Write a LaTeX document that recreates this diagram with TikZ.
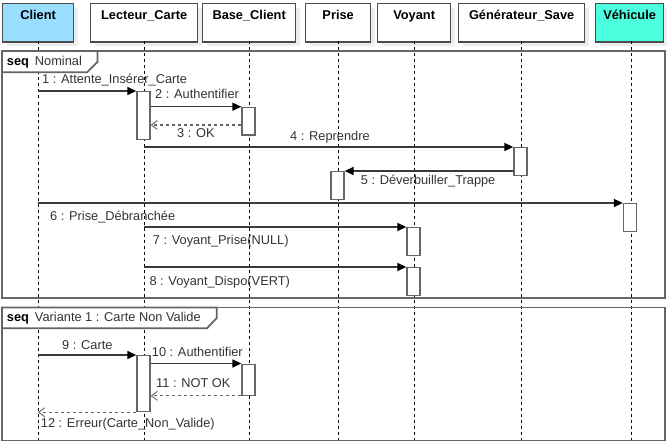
\documentclass[tikz,border=0pt]{standalone}
\usepackage{fontspec}
\setmainfont{Liberation Sans}
\usetikzlibrary{arrows.meta,calc}
\definecolor{clientblue}{HTML}{99DDFF}
\definecolor{vehcyan}{HTML}{4DFFDF}
\definecolor{strokegray}{HTML}{666666}
\definecolor{linegray}{HTML}{3A3A3A}
\definecolor{txtgray}{HTML}{333333}
\begin{document}
\begin{tikzpicture}[x=1pt,y=-1pt,
  font=\fontsize{12.8}{15}\selectfont,
  hdr/.style={draw=black!70, line width=1.3pt, fill=white,
    preaction={fill=black!7, transform canvas={xshift=4pt,yshift=-4pt}},
    minimum height=38.5pt, inner xsep=0pt, inner ysep=0pt,
    text height=16.3pt, text depth=22.2pt,
    font=\fontsize{12.8}{15}\selectfont\bfseries, anchor=north west},
  lifeline/.style={draw=black, line width=0.9pt, dash pattern=on 3pt off 3pt},
  act/.style={draw=strokegray, line width=1.3pt, fill=white, minimum width=13pt,
    inner sep=0pt, anchor=north},
  msg/.style={draw=linegray, line width=1.4pt,
    -{Triangle[length=9pt,width=8pt,fill=black,color=black]}},
  ret/.style={draw=strokegray, line width=1.1pt, dash pattern=on 3pt off 3pt,
    -{Straight Barb[length=6pt,width=9pt,line width=0.9pt]}},
  lbl/.style={anchor=base west, inner sep=0pt, text=txtgray},
  frame/.style={draw=strokegray, line width=1.8pt},
]
\useasboundingbox (0,0) rectangle (667,444);
\coordinate (bottom) at (0,444);

% headers
\node[hdr, fill=clientblue, minimum width=71pt] (client) at (2,3) {Client};
\node[hdr, minimum width=107pt] (lecteur) at (90,3) {Lecteur\_Carte};
\node[hdr, minimum width=93pt] (base) at (202,3) {Base\_Client};
\node[hdr, minimum width=65pt] (prise) at (305,3) {Prise};
\node[hdr, minimum width=73pt] (voyant) at (377,3) {Voyant};
\node[hdr, minimum width=126pt] (gen) at (458,3) {Générateur\_Save};
\node[hdr, fill=vehcyan, minimum width=68pt] (veh) at (595,3) {Véhicule};

% lifelines
\coordinate (L1) at (38,41.5);
\coordinate (L2) at (144,41.5);
\coordinate (L3) at (249.5,41.5);
\coordinate (L4) at (338,41.5);
\coordinate (L5) at (414.5,41.5);
\coordinate (L6) at (521.5,41.5);
\coordinate (L7) at (631,41.5);
\foreach \l in {L1,L2,L3,L4,L5,L6,L7}
  \draw[lifeline] (\l) -- (\l |- bottom);

% frames
\draw[frame] (2,51) rectangle (665,298);
\draw[frame, fill=white] (2,51) -- (97.5,51) -- (97.5,62) -- (87,72.3) -- (2,72.3) -- cycle;
\node[anchor=base west, inner sep=0pt, text=txtgray] (f1) at (6.7,65.7) {\textcolor{black}{\textbf{seq}}\hspace{6pt}Nominal};

\draw[frame] (2,307.5) rectangle (665,440.5);
\draw[frame, fill=white] (2,307.5) -- (216.7,307.5) -- (216.7,318) -- (207,328.3) -- (2,328.3) -- cycle;
\node[anchor=base west, inner sep=0pt, text=txtgray] (f2) at (6.7,321.7) {\textcolor{black}{\textbf{seq}}\hspace{6pt}Variante 1 : Carte Non Valide};

% activations
\node[act, minimum height=48pt] (a1) at (143.5,91) {};
\node[act, minimum height=27.5pt] (a2) at (248.5,106.7) {};
\node[act, minimum height=28pt] (a3) at (520.5,147) {};
\node[act, minimum height=28pt] (a4) at (337.5,171) {};
\node[act, minimum height=28pt] (a5) at (630,203) {};
\node[act, minimum height=28pt] (a6) at (413.5,227) {};
\node[act, minimum height=28pt] (a7) at (413.5,267) {};
\node[act, minimum height=56pt] (a8) at (143.5,355) {};
\node[act, minimum height=31pt] (a9) at (248.5,363.5) {};

% messages
\draw[msg] (a1.north west -| L1) -- (a1.north west);
\draw[msg] (a2.north west -| a1.east) -- (a2.north west);
\draw[ret] ([yshift=10.5pt]a2.south west) -- ([yshift=10.5pt]a2.south west -| a1.east);
\draw[msg] (a3.north west -| L2) -- (a3.north west);
\draw[msg] (a4.north east -| a3.west) -- (a4.north east);
\draw[msg] (a5.north west -| L1) -- (a5.north west);
\draw[msg] (a6.north west -| L2) -- (a6.north west);
\draw[msg] (a7.north west -| L2) -- (a7.north west);
\draw[msg] (a8.north west -| L1) -- (a8.north west);
\draw[msg] (a9.north west -| a8.east) -- (a9.north west);
\draw[ret] (a9.south west) -- (a9.south west -| a8.east);
\draw[ret] (a8.south west) -- (a8.south west -| L1);

% labels
\node[lbl] (t1) at (42,84) {1 : Attente\_Insérer\_Carte};
\node[lbl] (t2) at (155,99) {2 : Authentifier};
\node[lbl] (t3) at (177,137.5) {3 : OK};
\node[lbl] (t4) at (290,140.7) {4 : Reprendre};
\node[lbl] (t5) at (360.7,184) {5 : Déverbuiller\_Trappe};
\node[lbl] (t6) at (50,220) {6 : Prise\_Débranchée};
\node[lbl] (t7) at (152.7,244.3) {7 : Voyant\_Prise(NULL)};
\node[lbl] (t8) at (149.3,285) {8 : Voyant\_Dispo(VERT)};
\node[lbl] (t9) at (62,349) {9 : Carte};
\node[lbl] (t10) at (151.7,356) {10 : Authentifier};
\node[lbl] (t11) at (156,387.7) {11 : NOT OK};
\node[lbl] (t12) at (40.7,427.3) {12 : Erreur(Carte\_Non\_Valide)};
\end{tikzpicture}
\end{document}
